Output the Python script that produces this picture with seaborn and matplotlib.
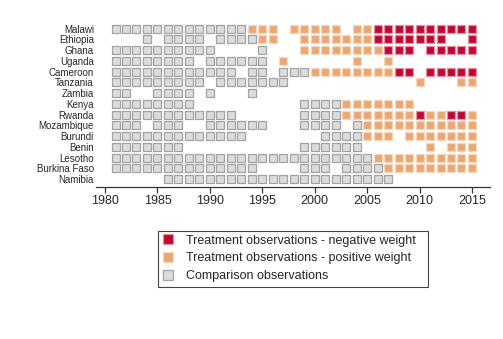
import numpy as np
import pandas as pd
import matplotlib
matplotlib.use("Agg")
import matplotlib.pyplot as plt
import seaborn as sns
from matplotlib.lines import Line2D
from matplotlib.patches import Rectangle

sns.set_style("white")
plt.rcParams["font.family"] = ["Liberation Sans", "DejaVu Sans"]

# ---- data -------------------------------------------------------------
countries = ["Malawi", "Ethiopia", "Ghana", "Uganda", "Cameroon", "Tanzania",
             "Zambia", "Kenya", "Rwanda", "Mozambique", "Burundi", "Benin",
             "Lesotho", "Burkina Faso", "Namibia"]
years = list(range(1981, 2016))
# one character per year 1981..2015:
# c = comparison, p = treatment positive weight, n = treatment negative weight, . = none
status = [
    "ccccccccccccc" + "ppp" + "." + "ppppp" + "." + "pp" + "nnnnnnnnnn",          # Malawi
    "..." + "c" + "." + "cccc" + "." + "cccc" + "pp" + ".." + "ppppppp" + "nnnnnnn" + ".." + "n",  # Ethiopia
    "cccccccccc" + "...." + "c" + "..." + "pppppppp" + "nnn" + "." + "nnnnn",     # Ghana
    "cccccccc" + "." + "cccccc" + "." + "p" + "......" + "p" + ".." + "p" + "........",  # Uganda
    "cccccccccccc" + "." + "cc" + "." + "ccc" + "pppppppp" + "nn" + "." + "nnnnn",  # Cameroon
    "ccccccccc" + "." + "ccccccc" + "............" + "p" + "..." + "pp",          # Tanzania
    "cc" + ".." + "cccc" + "." + "c" + "..." + "c" + "....................." ,    # Zambia
    "cccccccc" + ".........." + "cccc" + "ppppppp" + "......",                   # Kenya
    "cccccccccccc" + "......" + "cccc" + "ppppppp" + "n" + "pp" + "nn" + "p",     # Rwanda
    "ccc" + "." + "ccc" + ".." + "cccccc" + "..." + "cccc" + "." + "c" + "ppppppppppp",  # Mozambique
    "ccccccccccccc" + "......." + "cccc" + "ppp" + "." + "ppppppp",              # Burundi
    "ccccccc" + "..........." + "cccccc" + "......" + "p" + "." + "ppp",          # Benin
    "ccccccccccccccccccccccccc" + "pppppppppp",                                  # Lesotho
    "cccccccccccccc" + "...." + "ccc" + "." + "cccc" + "ppppppppp",              # Burkina Faso
    "....." + "cccccccccccccccccccccc" + "........",                             # Namibia
]
xticks = [1980, 1985, 1990, 1995, 2000, 2005, 2010, 2015]
legend_labels = ["Treatment observations - negative weight",
                 "Treatment observations - positive weight",
                 "Comparison observations"]

# ---- tidy frame -------------------------------------------------------
records = []
for i, (name, s) in enumerate(zip(countries, status)):
    for yr, code in zip(years, s):
        if code != ".":
            records.append({"country": name, "row": i, "year": yr, "code": code})
df = pd.DataFrame(records)

styles = {
    "c": dict(fill="#DCDCDC", edge="#A3A3A3"),
    "p": dict(fill="#EBA772", edge="#F6D6BC"),
    "n": dict(fill="#C10534", edge="#E5909F"),
}

W, H = 503, 339
fig = plt.figure(figsize=(W / 100, H / 100), dpi=100)
ax = fig.add_axes([96 / W, 1 - 187 / H, (490 - 96) / W, (187 - 18) / H])

for code in ["c", "p", "n"]:
    sub = df[df["code"] == code]
    st = styles[code]
    sns.scatterplot(data=sub, x="year", y="row", marker="s", s=38,
                    color=st["fill"], edgecolor=st["edge"], linewidth=0.9,
                    ax=ax, legend=False, zorder=3)

ax.set_xlim(1979.14, 2016.72)
ax.set_ylim(14.72, -0.976)
ax.set_xticks(xticks)
ax.set_xticklabels([str(x) for x in xticks])
ax.set_yticks(range(len(countries)))
ax.set_yticklabels(countries)
ax.set_xlabel("")
ax.set_ylabel("")
for side in ["top", "right", "left"]:
    ax.spines[side].set_visible(False)
ax.spines["bottom"].set_color("#333333")
ax.spines["bottom"].set_linewidth(0.9)
ax.tick_params(axis="x", direction="out", length=4, width=0.9, color="#333333",
               labelsize=9, pad=2, bottom=True)
ax.tick_params(axis="y", length=0, labelsize=7, pad=1.5)
ax.grid(False)

handles = [
    Line2D([], [], marker="s", linestyle="", markersize=7,
           markerfacecolor=styles[k]["fill"], markeredgecolor=styles[k]["edge"],
           markeredgewidth=0.9)
    for k in ["n", "p", "c"]
]
leg = fig.legend(handles, legend_labels, loc="upper left",
                 bbox_to_anchor=(158 / W, 1 - 231 / H), frameon=False,
                 fontsize=9, handlelength=1.05, handletextpad=0.85,
                 borderpad=0.3, labelspacing=0.45, borderaxespad=0)

# legend frame drawn as a figure rectangle
fig.patches.append(Rectangle((158 / W, 1 - 287 / H), (428 - 158) / W, (287 - 231) / H,
                             transform=fig.transFigure, fill=False,
                             edgecolor="#444444", linewidth=0.8))

fig.savefig("out.png", dpi=100)
